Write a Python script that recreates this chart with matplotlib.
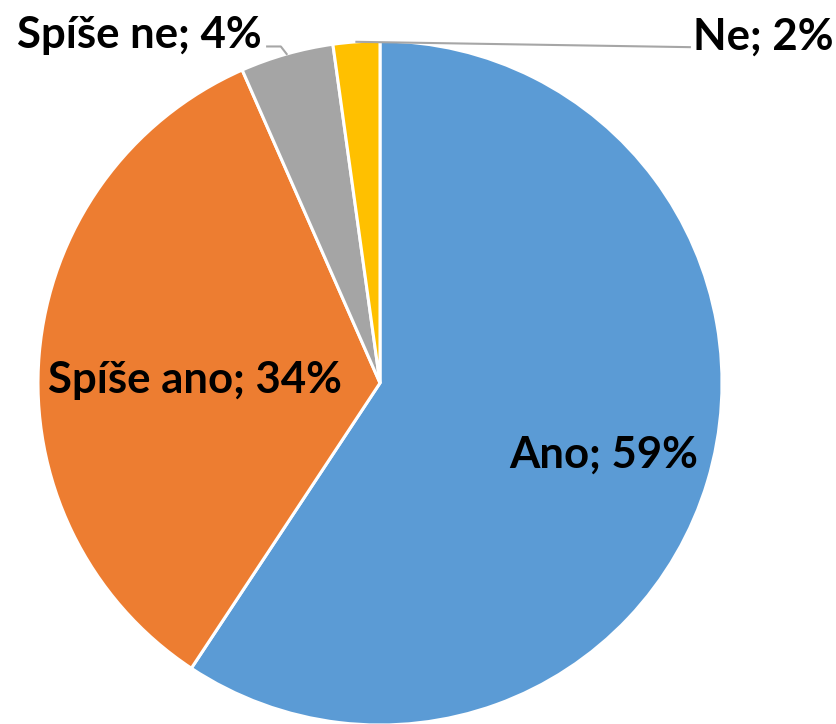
import numpy as np
import matplotlib.pyplot as plt

labels = ['Ano', 'Spíše ano', 'Spíše ne', 'Ne']
values = [59.3, 34.1, 4.4, 2.2]
colors = ['#5B9BD5', '#ED7D31', '#A5A5A5', '#FFC000']

plt.rcParams['font.family'] = ['Lato', 'DejaVu Sans']

fig = plt.figure(figsize=(8.37, 7.24), dpi=100)
# pie centre at (380, 383) px, radius 342 px
ax = fig.add_axes([(380 - 342) / 837, (724 - 383 - 342) / 724, 684 / 837, 684 / 724])
wedges, _ = ax.pie(values, colors=colors, startangle=90, counterclock=False,
                   radius=1, wedgeprops=dict(edgecolor='white', linewidth=2.2))
ax.set_xlim(-1, 1)
ax.set_ylim(-1, 1)
ax.set_aspect('equal')
ax.axis('off')

total = sum(values)
cum = np.cumsum([0] + values[:-1])
mid = [(c + v / 2) / total * 2 * np.pi for c, v in zip(cum, values)]

def txt(i, x, y, ha='center'):
        ax.text(x, y, labels[i] + '; %d%%' % round(values[i]), ha=ha, va='center',
                fontsize=31.5, fontweight='bold', color='black', clip_on=False)

# inside labels
txt(0, 0.655, -0.21)
txt(1, -0.54, 0.01)

# outside labels with leader lines
a = mid[3]
ax.plot([np.sin(a), 0.906], [np.cos(a), 0.982], color='#A6A6A6', lw=1.5, clip_on=False)
txt(3, 0.915, 1.012, ha='left')

a = mid[2]
ax.plot([np.sin(a), -0.29, -0.33], [np.cos(a), 0.984, 0.984], color='#A6A6A6', lw=1.5, clip_on=False)
txt(2, -0.345, 1.018, ha='right')

fig.savefig('out.png', dpi=100)
